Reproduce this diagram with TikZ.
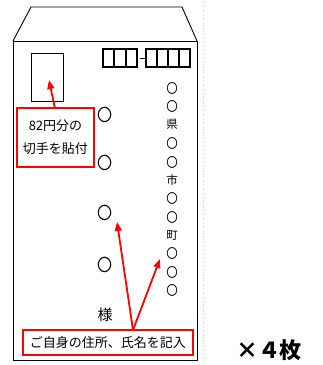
\documentclass[tikz,border=0pt]{standalone}
\usepackage{fontspec}
\setmainfont{Noto Sans CJK JP}
\usetikzlibrary{arrows.meta}
\begin{document}
\begin{tikzpicture}[x=1pt,y=-1pt,
  env/.style={draw=black, line width=0.9pt},
  redbox/.style={draw=red, line width=2pt, inner sep=0pt, fill=white},
  redarrow/.style={draw=red, line width=1.8pt, -{Triangle[length=9pt,width=7pt]}},
  zipbox/.style={draw=black, line width=1.8pt, minimum width=11.3pt, minimum height=18pt, inner sep=0pt},
  vchar/.style={font=\fontsize{11.5}{11.5}\selectfont, inner sep=0pt},
  bigcirc/.style={font=\fontsize{15}{15}\selectfont, inner sep=0pt, yscale=1.15},
  smallcirc/.style={font=\fontsize{11.5}{11.5}\selectfont, inner sep=0pt, yscale=1.15},
]
\useasboundingbox (0,0) rectangle (323,365);
% faint dotted guide
\draw[gray!35, dotted, line width=0.6pt] (203,2) -- (203,364);
% envelope
\draw[env] (13,41) -- (31,7) -- (182,7) -- (197,41);
\draw[env] (13,41) rectangle (197,360);
% stamp area
\node[draw=black, line width=0.9pt, minimum width=32pt, minimum height=48pt, inner sep=0pt] (stamp) at (47,77) {};
% postal code boxes
\foreach \i [count=\k] in {0,1,2} {
  \node[zipbox] (za\k) at (108.7+11.3*\i,58) {};
}
\draw[black, line width=1pt] (139.5,58) -- (144.5,58);
\foreach \i [count=\k] in {0,1,2,3} {
  \node[zipbox] (zb\k) at (151.5+11*\i,58) {};
}
% left column (name)
\node[bigcirc] (n1) at (105,115) {〇};
\node[bigcirc] (n2) at (105,163) {〇};
\node[bigcirc] (n3) at (105,213) {〇};
\node[bigcirc] (n4) at (105,265) {〇};
\node[font=\fontsize{15}{15}\selectfont, inner sep=0pt] (sama) at (105,315) {様};
% right column (address)
\foreach \y [count=\k] in {88,106,143,162,198,217,253,272,290} {
  \node[smallcirc] (c\k) at (172,\y) {〇};
}
\node[vchar] (ken) at (172,124) {県};
\node[vchar] (shi) at (172,180) {市};
\node[vchar] (cho) at (172,235) {町};
% red label boxes
\node[redbox, minimum width=77pt, minimum height=59pt, align=center,
      font=\fontsize{13}{23}\selectfont] (lab1) at (55.5,137.5) {82円分の\\切手を貼付};
\node[redbox, minimum width=170pt, minimum height=25pt,
      font=\fontsize{13}{13}\selectfont] (lab2) at (108,342.5) {ご自身の住所、氏名を記入};
% arrows
\coordinate (s1) at (55,108.5);
\coordinate (t1) at (49,80);
\draw[redarrow] (s1) -- (t1);
\coordinate (apex) at (133,330);
\coordinate (t2) at (117,222);
\coordinate (t3) at (160,259);
\draw[redarrow] (apex) -- (t2);
\draw[redarrow] (apex) -- (t3);
% count
\node[font=\fontsize{22}{22}\selectfont\bfseries, inner sep=0pt] (count) at (269,350) {×４枚};
\end{tikzpicture}
\end{document}
